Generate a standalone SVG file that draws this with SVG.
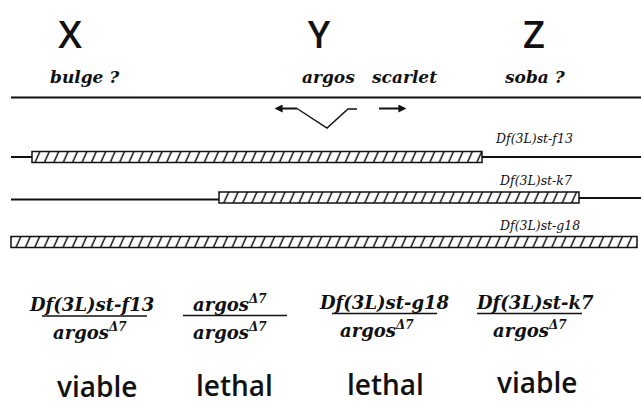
<svg xmlns="http://www.w3.org/2000/svg" width="641" height="404" viewBox="0 0 641 404">
<style>
.big{font-family:"Open Sans","DejaVu Sans",sans-serif;font-weight:600;font-size:38px;fill:#111;text-anchor:middle}
.gene{font-family:"DejaVu Serif","Liberation Serif",serif;font-style:italic;font-weight:bold;font-size:17px;fill:#111}
.df{font-family:"DejaVu Serif","Liberation Serif",serif;font-style:italic;font-size:12.5px;fill:#111}
.frac{font-family:"DejaVu Serif","Liberation Serif",serif;font-style:italic;font-weight:bold;font-size:18px;fill:#111}
.sup{font-size:12px}
.res{font-family:"Open Sans","DejaVu Sans",sans-serif;font-weight:600;font-size:28px;fill:#111}
.ln{stroke:#111;stroke-width:2;fill:none}
.bar{fill:url(#hatch);stroke:#111;stroke-width:1.5}
.fl{stroke:#111;stroke-width:1.4}
</style>
<defs>
<pattern id="hatch" patternUnits="userSpaceOnUse" width="9.4" height="12" patternTransform="skewX(-24)">
<rect width="9.4" height="12" fill="#fff"/>
<line x1="4" y1="-1" x2="4" y2="13" stroke="#111" stroke-width="1.6"/>
</pattern>
<marker id="ah" viewBox="0 0 10 10" refX="2" refY="5" markerWidth="8" markerHeight="8" markerUnits="userSpaceOnUse" orient="auto">
<path d="M0,0 L10,5 L0,10 z" fill="#111"/>
</marker>
</defs>

<g id="loci">
<text class="big" x="70" y="48">X</text>
<text class="big" x="319" y="48">Y</text>
<text class="big" x="534" y="48">Z</text>
<text class="gene" x="50" y="83">bulge  ?</text>
<text class="gene" x="302" y="83">argos</text>
<text class="gene" x="372" y="83">scarlet</text>
<text class="gene" x="505" y="83">soba  ?</text>
</g>

<g id="chromosome">
<line class="ln" x1="11" y1="97.5" x2="641" y2="97.5"/>
</g>

<g id="connectors">
<line class="ln" x1="297" y1="108.5" x2="281" y2="108.5" marker-end="url(#ah)"/>
<polyline class="fl" points="297,108.5 327,128 348,109 357,109" fill="none"/>
<line class="ln" x1="379" y1="108.5" x2="400" y2="108.5" marker-end="url(#ah)"/>
</g>

<g id="df-f13">
<line class="ln" x1="11" y1="157" x2="32" y2="157"/>
<rect class="bar" x="32" y="151.5" width="450" height="11"/>
<line class="ln" x1="482" y1="157" x2="641" y2="157"/>
<text class="df" x="496" y="143">Df(3L)st-f13</text>
</g>

<g id="df-k7">
<line class="ln" x1="11" y1="199.5" x2="219" y2="199.5"/>
<rect class="bar" x="219" y="192" width="360" height="11"/>
<line class="ln" x1="579" y1="198" x2="641" y2="198"/>
<text class="df" x="500" y="185">Df(3L)st-k7</text>
</g>

<g id="df-g18">
<rect class="bar" x="11" y="236.5" width="626" height="11"/>
<text class="df" x="500" y="230">Df(3L)st-g18</text>
</g>

<g id="cross1">
<text class="frac" x="30" y="311">Df(3L)st-f13</text>
<line class="fl" x1="42" y1="316" x2="147" y2="316"/>
<text class="frac" x="53" y="339">argos<tspan class="sup" dy="-8">Δ7</tspan></text>
<text class="res" x="57" y="397">viable</text>
</g>

<g id="cross2">
<text class="frac" x="193" y="311">argos<tspan class="sup" dy="-8">Δ7</tspan></text>
<line class="fl" x1="183" y1="315.5" x2="287" y2="315.5"/>
<text class="frac" x="193" y="339">argos<tspan class="sup" dy="-8">Δ7</tspan></text>
<text class="res" x="196" y="396">lethal</text>
</g>

<g id="cross3">
<text class="frac" x="320" y="309">Df(3L)st-g18</text>
<line class="fl" x1="332" y1="313.5" x2="437" y2="313.5"/>
<text class="frac" x="340" y="337">argos<tspan class="sup" dy="-8">Δ7</tspan></text>
<text class="res" x="347" y="395">lethal</text>
</g>

<g id="cross4">
<text class="frac" x="477" y="309">Df(3L)st-k7</text>
<line class="fl" x1="477" y1="313.5" x2="582" y2="313.5"/>
<text class="frac" x="493" y="337">argos<tspan class="sup" dy="-8">Δ7</tspan></text>
<text class="res" x="497" y="393">viable</text>
</g>
</svg>
